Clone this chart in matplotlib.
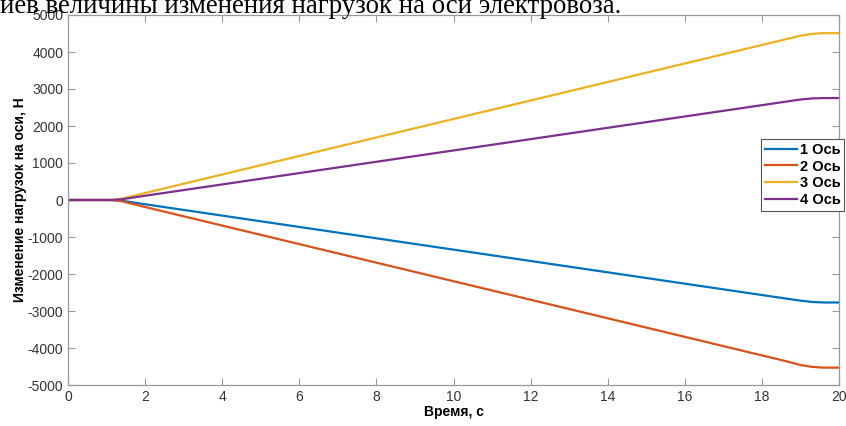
import matplotlib
matplotlib.use("Agg")
import matplotlib.pyplot as plt

t = [0, 1.0, 1.2, 1.4, 2, 18.6, 19.0, 19.3, 19.6, 20]
axis1 = [0, 0, -5, -20, -115, -2660, -2720, -2755, -2770, -2770]
axis2 = [0, 0, -8, -35, -190, -4350, -4460, -4510, -4530, -4530]
axis3 = [0, 0, 8, 35, 190, 4340, 4440, 4490, 4510, 4510]
axis4 = [0, 0, 5, 20, 115, 2655, 2716, 2745, 2755, 2755]
labels = ["1 Ось", "2 Ось", "3 Ось", "4 Ось"]
colors = ["#0072BD", "#D95319", "#EDB120", "#7E2F8E"]
xticks = list(range(0, 21, 2))
yticks = list(range(-5000, 5001, 1000))

plt.rcParams['font.family'] = ['Liberation Sans', 'DejaVu Sans']
plt.rcParams['axes.unicode_minus'] = False
fig = plt.figure(figsize=(8.46, 4.26), dpi=100)
ax = fig.add_axes([68/846, 1-385/426, (839-68)/846, (385-15)/426])

for y, lab, c in zip([axis1, axis2, axis3, axis4], labels, colors):
    ax.plot(t, y, color=c, lw=1.6, label=lab)

ax.set_xlim(0, 20)
ax.set_ylim(-5000, 5000)
ax.set_xticks(xticks)
ax.set_yticks(yticks)
ax.tick_params(direction='in', top=True, right=True, length=5, width=0.8,
               colors='#999999', labelcolor='#333333', labelsize=10)
for s in ax.spines.values():
    s.set_color('#999999')
    s.set_linewidth(0.9)
ax.set_xlabel("Время, с", fontweight='bold', fontsize=10, labelpad=1)
ax.set_ylabel("Изменение нагрузок на оси, Н", fontweight='bold', fontsize=10, labelpad=0)

leg = ax.legend(loc='upper left', bbox_to_anchor=((761-68)/(839-68), (385-139)/370),
                prop={'weight': 'bold', 'size': 10.5}, handlelength=2.2, handletextpad=0.2,
                borderpad=0.25, labelspacing=0.2, fancybox=False, framealpha=1,
                borderaxespad=0)
leg.get_frame().set_edgecolor('#555555')
leg.get_frame().set_linewidth(0.8)

fig.text(0.0, 1-13/426, "иев величины изменения нагрузок на оси электровоза.",
         family='Liberation Serif', fontsize=19.4, color='black', va='baseline', ha='left')

fig.savefig("out.png", dpi=100)
